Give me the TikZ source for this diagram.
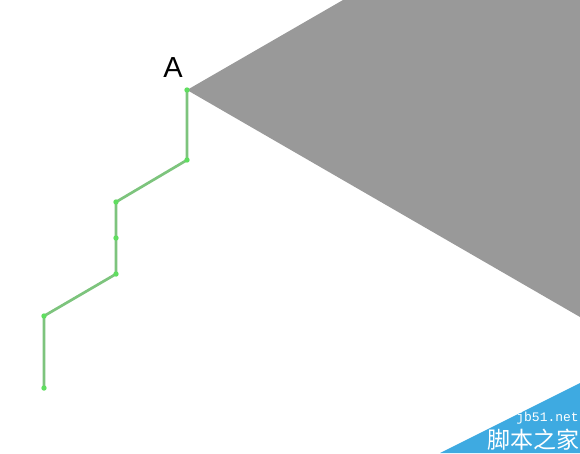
\documentclass[tikz,border=0pt]{standalone}
\usepackage{fontspec}
\setmainfont{Liberation Sans}
\newfontfamily\cjk{Noto Sans CJK SC}
\newfontfamily\wmfont{Liberation Mono}
\usetikzlibrary{calc}

\definecolor{faceg}{RGB}{153,153,153}
\definecolor{pathg}{RGB}{125,196,125}
\definecolor{dotg}{RGB}{95,222,95}
\definecolor{wmblue}{RGB}{62,170,225}

\begin{document}
\begin{tikzpicture}[x=1pt, y=-1pt, line cap=round]
    % 阶梯路径和面
    \def\r{2.7}
    \useasboundingbox (0,0) rectangle (580,453);
    \coordinate (A) at (187, 90);
    \coordinate (P2) at (187, 160);
    \coordinate (P3) at (116, 202);
    \coordinate (P4) at (116, 238);
    \coordinate (P5) at (116, 274);
    \coordinate (P6) at (44, 316);
    \coordinate (P7) at (44, 388);
    \coordinate (T) at (343, 0);
    \coordinate (TR) at (580, 0);
    \coordinate (BR) at (580, 317);

    \fill[faceg] (A) -- (T) -- (TR) -- (BR) -- cycle;

    \draw[pathg, line width=2.7pt, line join=round] (A) -- (P2) -- (P3) -- (P4) -- (P5) -- (P6) -- (P7);

    \foreach \p in {A, P2, P3, P4, P5, P6, P7}
        \fill[dotg] (\p) circle (\r);

    \node[font=\fontsize{29}{29}\selectfont] (lblA) at (173, 68) {A};

    % 水印
    \fill[wmblue] (440, 453) -- (580, 383) -- (580, 453) -- cycle;
    \node[white, anchor=east, inner sep=0pt, font=\wmfont\fontsize{13}{13}\selectfont] (wm1) at (579, 418) {jb51.net};
    \node[white, anchor=east, inner sep=0pt, font=\cjk\fontsize{23}{23}\selectfont] (wm2) at (580, 440) {脚本之家};
\end{tikzpicture}
\end{document}
